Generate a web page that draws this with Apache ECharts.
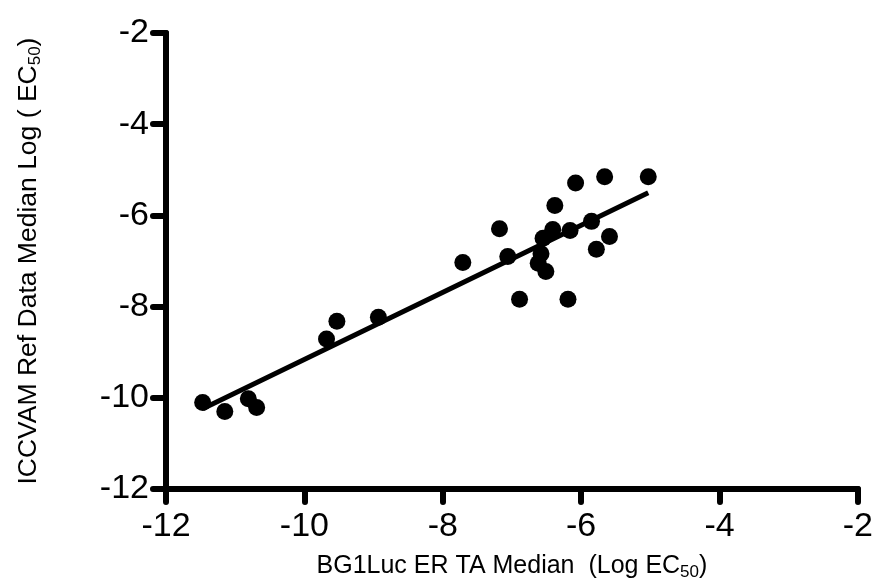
<!DOCTYPE html>
<html>
<head>
<meta charset="utf-8">
<script src="https://cdn.jsdelivr.net/npm/echarts@6/dist/echarts.min.js"></script>
<style>
  html, body { margin: 0; padding: 0; background: #fff; }
  #chart { width: 876px; height: 586px; }
</style>
</head>
<body>
<div id="chart"></div>
<script>
// BG1Luc ER TA median log EC50 (x) vs ICCVAM reference median log EC50 (y)
const bgLuc = [-11.47, -11.15, -10.81, -10.69, -9.68, -9.53, -8.93, -7.71, -7.18, -7.06, -6.89,
  -6.38, -6.41, -6.55, -6.58, -6.62, -6.51, -6.16, -6.19, -6.08, -5.85, -5.78, -5.59, -5.66, -5.03];
const iccvam = [-10.10, -10.30, -10.02, -10.21, -8.71, -8.32, -8.23, -7.03, -6.29, -6.90, -7.84,
  -5.78, -6.31, -6.50, -6.84, -7.05, -7.23, -6.33, -7.84, -5.29, -6.13, -6.74, -6.46, -5.15, -5.15];

// linear regression line end points
const fitX = [-11.47, -5.03];
const fitY = [-10.24, -5.50];

const ticks = [-12, -10, -8, -6, -4, -2];

const chart = echarts.init(document.getElementById('chart'));

// rich styles for "EC50" style subscripts in the axis names
const nameRich = (size) => ({
    a: {fontSize: size, color: '#000', fontFamily: 'Liberation Sans', lineHeight: 30},
    sub: {fontSize: 17, color: '#000', fontFamily: 'Liberation Sans', lineHeight: 30, verticalAlign: 'bottom', padding: [15, 0, 0, 0]}
});

const axisCommon = {
    type: 'value',
    min: ticks[0],
    max: ticks[ticks.length - 1],
    interval: 2,
    splitLine: {show: false},
    axisLine: {show: true, onZero: false, lineStyle: {color: '#000', width: 6, cap: 'round'}},
    axisTick: {show: true, inside: false, length: 13, lineStyle: {color: '#000', width: 6, cap: 'round'}},
    axisLabel: {color: '#000', fontSize: 34, fontFamily: 'Liberation Sans'},
    nameLocation: 'middle'
};

const option = {
    backgroundColor: '#fff',
    animation: false,
    grid: {left: 166, right: 16, top: 33, bottom: 93, containLabel: false},
    xAxis: Object.assign({}, axisCommon, {
        name: '{a|BG1Luc ER TA Median  (Log EC}{sub|50}{a|)}',
        nameGap: 59,
        nameTextStyle: {color: '#000', fontFamily: 'Liberation Sans', rich: nameRich(25)},
        axisLabel: Object.assign({}, axisCommon.axisLabel, {margin: 21})
    }),
    yAxis: Object.assign({}, axisCommon, {
        name: '{a|ICCVAM Ref Data Median Log ( EC}{sub|50}{a|)}',
        nameGap: 122,
        nameRotate: 90,
        nameTextStyle: {color: '#000', fontFamily: 'Liberation Sans', rich: nameRich(26.5)},
        axisLabel: Object.assign({}, axisCommon.axisLabel, {margin: 17})
    }),
    series: [
        {
            type: 'scatter',
            data: bgLuc.map((x, i) => [x, iccvam[i]]),
            symbol: 'circle',
            symbolSize: 17,
            itemStyle: {color: '#000', opacity: 1},
            z: 3
        },
        {
            type: 'line',
            data: fitX.map((x, i) => [x, fitY[i]]),
            showSymbol: false,
            lineStyle: {color: '#000', width: 5},
            z: 2
        }
    ]
};

chart.setOption(option);
</script>
</body>
</html>
